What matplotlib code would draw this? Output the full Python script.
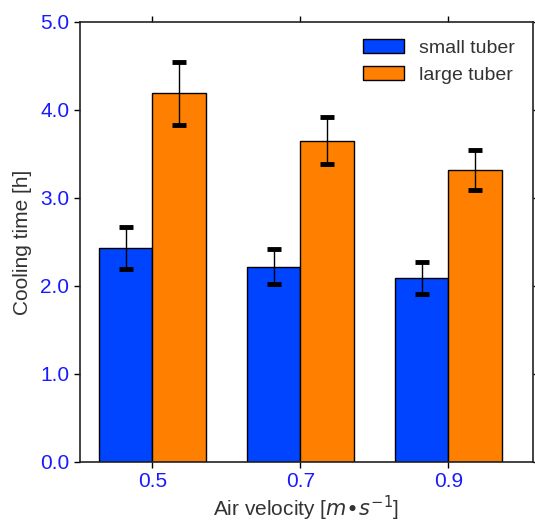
import matplotlib
matplotlib.use('Agg')
import matplotlib.pyplot as plt
import numpy as np

plt.rcParams['font.family'] = ['Liberation Sans', 'DejaVu Sans']
plt.rcParams['mathtext.fontset'] = 'dejavusans'

# data
velocities = ['0.5', '0.7', '0.9']
small_mean = [2.43, 2.22, 2.09]
small_err  = [0.24, 0.20, 0.18]
large_mean = [4.19, 3.65, 3.32]
large_err  = [0.36, 0.27, 0.23]

blue   = '#0044ff'
orange = '#ff7f00'
tickc  = '#1a1aff'

x = np.arange(len(velocities))
w = 0.36

fig = plt.figure(figsize=(5.35, 5.23), dpi=100)
ax = fig.add_axes([0.150, 0.117, 0.846, 0.841])

errkw = dict(ecolor='black', elinewidth=1.0, capsize=5, capthick=3.5)
ax.bar(x - w/2, small_mean, w, yerr=small_err, color=blue, edgecolor='black',
       linewidth=1.0, label='small tuber', error_kw=errkw)
ax.bar(x + w/2, large_mean, w, yerr=large_err, color=orange, edgecolor='black',
       linewidth=1.0, label='large tuber', error_kw=errkw)

ax.set_xlim(-0.486, 2.57)
ax.set_ylim(0, 5)
ax.set_xticks(x)
ax.set_xticklabels(velocities)
ax.set_yticks(np.arange(0, 5.01, 1.0))
ax.set_yticklabels(['%.1f' % v for v in np.arange(0, 5.01, 1.0)])
ax.tick_params(axis='both', which='both', direction='out', labelsize=15,
               labelcolor=tickc, length=4, width=1, top=True, right=True)
ax.tick_params(axis='y', pad=4)
for s in ax.spines.values():
    s.set_linewidth(1.2)
    s.set_color('#222222')

ax.set_xlabel(r'Air velocity [$m{\bullet}s^{-1}$]', fontsize=15, color='#333333',
              labelpad=2)
ax.set_ylabel('Cooling time [h]', fontsize=15, color='#333333', labelpad=6)

leg = ax.legend(loc='upper right', frameon=False, fontsize=14,
                handlelength=2.1, handleheight=0.72, handletextpad=0.8,
                borderaxespad=0.5, labelspacing=0.45)
for t in leg.get_texts():
    t.set_color('#333333')

plt.savefig('out.png', dpi=100)
plt.close('all')
